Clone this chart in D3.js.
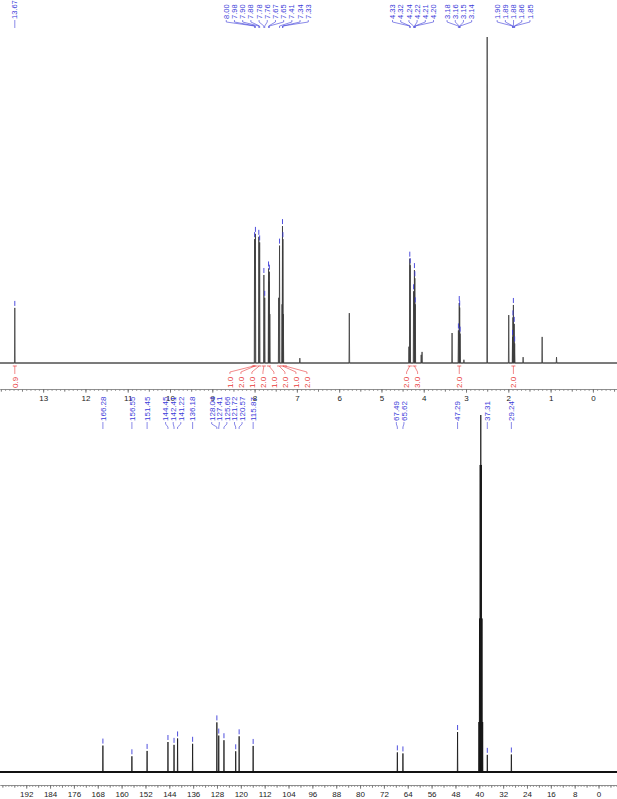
<!DOCTYPE html>
<html>
<head>
<meta charset="utf-8">
<script src="https://cdn.jsdelivr.net/npm/d3@7"></script>
<style>
  body { margin: 0; background: #fff; }
  svg { display: block; font-family: "Liberation Sans", Arial, sans-serif; }
</style>
</head>
<body>
<svg id="chart" width="617" height="799"></svg>
<script>
// ---- 1H spectrum: [ppm, height] (DMSO line = 100)
const hPeaks = [
  [13.67, 16.9], [8.00, 38.0], [7.98, 39.6], [7.90, 38.7], [7.88, 37.0],
  [7.78, 27.0], [7.76, 20.0], [7.67, 29.0], [7.66, 25.0], [7.65, 28.0], [7.64, 15.0],
  [7.43, 20.0], [7.41, 36.0], [7.35, 18.0], [7.34, 42.0], [7.33, 38.0], [7.32, 15.0],
  [6.93, 1.5], [5.76, 15.3], [4.35, 5.0], [4.33, 32.0], [4.32, 30.0],
  [4.24, 22.0], [4.22, 28.5], [4.21, 26.0], [4.20, 18.0], [4.06, 2.5], [4.04, 3.4],
  [3.33, 9.2], [3.18, 10.0], [3.16, 18.4], [3.15, 17.0], [3.14, 9.0], [3.05, 1.0],
  [2.50, 100], [1.99, 14.7], [1.90, 8.0], [1.89, 14.0], [1.88, 17.8], [1.86, 12.0],
  [1.85, 6.0], [1.65, 1.8], [1.20, 8.0], [0.86, 1.8]
];
const hLabels = [13.67, 8.00, 7.98, 7.90, 7.88, 7.78, 7.76, 7.67, 7.65, 7.41, 7.34, 7.33,
  4.33, 4.32, 4.24, 4.22, 4.21, 4.20, 3.18, 3.16, 3.15, 3.14, 1.90, 1.89, 1.88, 1.86, 1.85];
// integrals: [centre ppm, value]
const hIntegrals = [
  [13.67, "0.9"], [8.02, "1.0"], [7.99, "2.0"], [7.89, "1.0"], [7.78, "2.0"],
  [7.66, "1.0"], [7.42, "2.0"], [7.34, "1.0"], [7.28, "2.0"],
  [4.33, "2.0"], [4.22, "3.0"], [3.16, "2.0"], [1.88, "2.0"]
];
const hTicks = [13, 12, 11, 10, 9, 8, 7, 6, 5, 4, 3, 2, 1, 0];

// ---- 13C spectrum: [ppm, height] (DMSO centre line = 100)
const cPeaks = [
  [166.28, 7.4], [156.55, 4.4], [151.45, 5.9], [144.45, 8.4], [142.41, 7.6],
  [141.22, 9.4], [136.18, 7.9], [128.04, 13.9], [127.41, 10.2], [125.66, 8.9],
  [121.72, 5.8], [120.57, 10.0], [115.87, 7.3], [67.49, 5.5], [65.62, 5.2],
  [47.29, 11.2], [40.13, 14], [39.92, 43], [39.71, 86], [39.50, 100],
  [39.29, 86], [39.08, 43], [38.87, 14], [37.31, 4.8], [29.24, 4.9]
];
const cLabels = [166.28, 156.55, 151.45, 144.45, 142.41, 141.22, 136.18, 128.04, 127.41,
  125.66, 121.72, 120.57, 115.87, 67.49, 65.62, 47.29, 37.31, 29.24];
const cTicks = [192, 184, 176, 168, 160, 152, 144, 136, 128, 120, 112, 104, 96, 88, 80,
  72, 64, 56, 48, 40, 32, 24, 16, 8, 0];

const W = 617;
const BLUE = "#3b3bd9", RED = "#e8393a";

const svg = d3.select("#chart");
svg.append("rect").attr("width", W).attr("height", 799).attr("fill", "#fff");

const x1 = d3.scaleLinear().domain([14.02, -0.57]).range([0, W]);
const y1 = d3.scaleLinear().domain([0, 100]).range([363, 37]);
const x2 = d3.scaleLinear().domain([200.8, -6.2]).range([0, W]);
const y2 = d3.scaleLinear().domain([0, 100]).range([772, 415]);

// spread label x positions so they keep a minimum gap (clusters centred on their peaks)
function spread(xs, gap) {
  const order = xs.map((d, i) => i).sort((a, b) => xs[a] - xs[b]);
  const cl = [];
  order.forEach(i => {
    cl.push({ idx: [i], sum: xs[i] });
    while (cl.length > 1) {
      const b = cl[cl.length - 1], a = cl[cl.length - 2];
      const aEnd = a.sum / a.idx.length + (a.idx.length - 1) * gap / 2;
      const bStart = b.sum / b.idx.length - (b.idx.length - 1) * gap / 2;
      if (bStart - aEnd < gap) {
        a.idx = a.idx.concat(b.idx); a.sum += b.sum; cl.pop();
      } else break;
    }
  });
  const out = new Array(xs.length);
  cl.forEach(c => {
    const n = c.idx.length, s = c.sum / n - (n - 1) * gap / 2;
    c.idx.forEach((i, k) => out[i] = s + k * gap);
  });
  return out;
}

// trace: baseline with a narrow spike for every peak
function trace(peaks, domain, w) {
  const pts = [[domain[0], 0]];
  peaks.slice().sort((a, b) => b[0] - a[0]).forEach(p => {
    pts.push([p[0] + w, 0], [p[0], p[1]], [p[0] - w, 0]);
  });
  pts.push([domain[1], 0]);
  return pts;
}

function heightAt(peaks, ppm) {
  const p = peaks.find(d => Math.abs(d[0] - ppm) < 1e-6);
  return p ? p[1] : 0;
}

function drawSpectrum(x, y, peaks, w, baseW, color) {
  const line = d3.line().x(d => x(d[0])).y(d => y(d[1]));
  svg.append("path")
    .attr("d", line([[x.domain()[0], 0], [x.domain()[1], 0]]))
    .attr("stroke", color).attr("stroke-width", baseW).attr("fill", "none");
  svg.append("path")
    .attr("d", line(trace(peaks, x.domain(), w)))
    .attr("stroke", color).attr("stroke-width", 0.8).attr("fill", "none");
}

function drawPeakLabels(x, y, peaks, labels, gap, textBottom, linkEnd, fontSize) {
  const px = labels.map(d => x(d));
  const lx = spread(px, gap);
  const g = svg.append("g");
  labels.forEach((d, i) => {
    g.append("text")
      .attr("transform", `translate(${lx[i]},${textBottom}) rotate(-90)`)
      .attr("dy", "0.35em")
      .attr("font-size", fontSize)
      .attr("fill", BLUE)
      .text(d.toFixed(2));
    g.append("path")
      .attr("d", `M${lx[i]},${textBottom + 1}L${lx[i]},${textBottom + 3}L${px[i]},${linkEnd - 2}L${px[i]},${linkEnd}`)
      .attr("stroke", BLUE).attr("stroke-width", 0.6).attr("fill", "none");
    const top = y(heightAt(peaks, d));
    g.append("line")
      .attr("x1", px[i]).attr("x2", px[i])
      .attr("y1", top - 7).attr("y2", top - 2)
      .attr("stroke", BLUE).attr("stroke-width", 0.9);
  });
}

function drawAxis(x, yPos, ticks, minorStep, majorStep) {
  const [d0, d1] = x.domain();
  const minor = d3.range(Math.ceil(d1 / minorStep), Math.floor(d0 / minorStep) + 1)
    .map(i => +(i * minorStep).toFixed(3));
  const mid = d3.range(Math.ceil(d1 / majorStep), Math.floor(d0 / majorStep) + 1)
    .map(i => +(i * majorStep).toFixed(3));
  const gMinor = svg.append("g").attr("transform", `translate(0,${yPos})`)
    .call(d3.axisBottom(x).tickValues(minor).tickSize(2).tickSizeOuter(0).tickFormat(""));
  const gMid = svg.append("g").attr("transform", `translate(0,${yPos})`)
    .call(d3.axisBottom(x).tickValues(mid).tickSize(3).tickSizeOuter(0).tickFormat(""));
  const gMajor = svg.append("g").attr("transform", `translate(0,${yPos})`)
    .call(d3.axisBottom(x).tickValues(ticks).tickSize(4).tickSizeOuter(0).tickFormat(d3.format("d")));
  [gMinor, gMid, gMajor].forEach(g => {
    g.select(".domain").attr("stroke", "#888").attr("stroke-width", 0.6);
    g.selectAll(".tick line").attr("stroke", "#666").attr("stroke-width", 0.6);
  });
  gMajor.selectAll(".tick text")
    .attr("font-size", 8).attr("fill", "#222")
    .attr("font-family", "Liberation Sans, Arial, sans-serif").attr("y", 6);
}

// ---------- 1H panel ----------
drawSpectrum(x1, y1, hPeaks, 0.008, 0.9, "#3a3a3a");
drawPeakLabels(x1, y1, hPeaks, hLabels, 8.2, 19, 28, 7.5);

// integrals
const ix = hIntegrals.map(d => x1(d[0]));
const ilx = spread(ix, 11);
const gi = svg.append("g");
hIntegrals.forEach((d, i) => {
  gi.append("line")
    .attr("x1", ix[i] - 2).attr("x2", ix[i] + 2)
    .attr("y1", 366).attr("y2", 366)
    .attr("stroke", RED).attr("stroke-width", 0.7);
  gi.append("path")
    .attr("d", `M${ix[i]},366L${ilx[i]},372L${ilx[i]},374`)
    .attr("stroke", RED).attr("stroke-width", 0.6).attr("fill", "none");
  gi.append("text")
    .attr("transform", `translate(${ilx[i]},388) rotate(-90)`)
    .attr("dy", "0.35em")
    .attr("font-size", 8)
    .attr("fill", RED)
    .text(d[1]);
});
drawAxis(x1, 389, hTicks, 0.1, 0.5);

// ---------- 13C panel ----------
drawSpectrum(x2, y2, cPeaks, 0.08, 2.2, "#111");
drawPeakLabels(x2, y2, cPeaks, cLabels, 7.6, 421, 429, 8);
drawAxis(x2, 785, cTicks, 1, 4);
</script>
</body>
</html>
